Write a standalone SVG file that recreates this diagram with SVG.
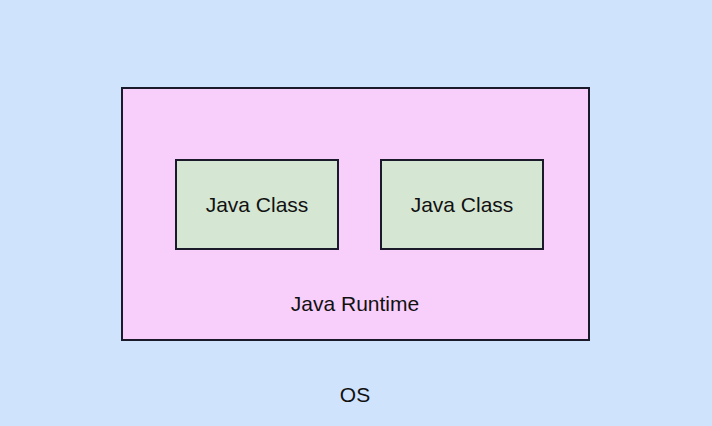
<svg xmlns="http://www.w3.org/2000/svg" width="712" height="426" viewBox="0 0 712 426">
<style>
.box{stroke:#1a1a2a;stroke-width:2}
.t{font-family:"Liberation Sans",Arial,sans-serif;font-size:21px;fill:#111;text-anchor:middle}
</style>
<g id="os">
<rect x="0" y="0" width="712" height="426" fill="#d0e3fc"/>
<text class="t" x="355" y="402">OS</text>
</g>
<g id="runtime">
<rect class="box" x="122" y="88" width="467" height="252" fill="#f8cefa"/>
<text class="t" x="355" y="311">Java Runtime</text>
</g>
<g id="class1">
<rect class="box" x="176" y="160" width="162" height="89" fill="#d5e6d3"/>
<text class="t" x="257" y="212">Java Class</text>
</g>
<g id="class2">
<rect class="box" x="381" y="160" width="162" height="89" fill="#d5e6d3"/>
<text class="t" x="462" y="212">Java Class</text>
</g>
<g id="connectors"></g>
</svg>
